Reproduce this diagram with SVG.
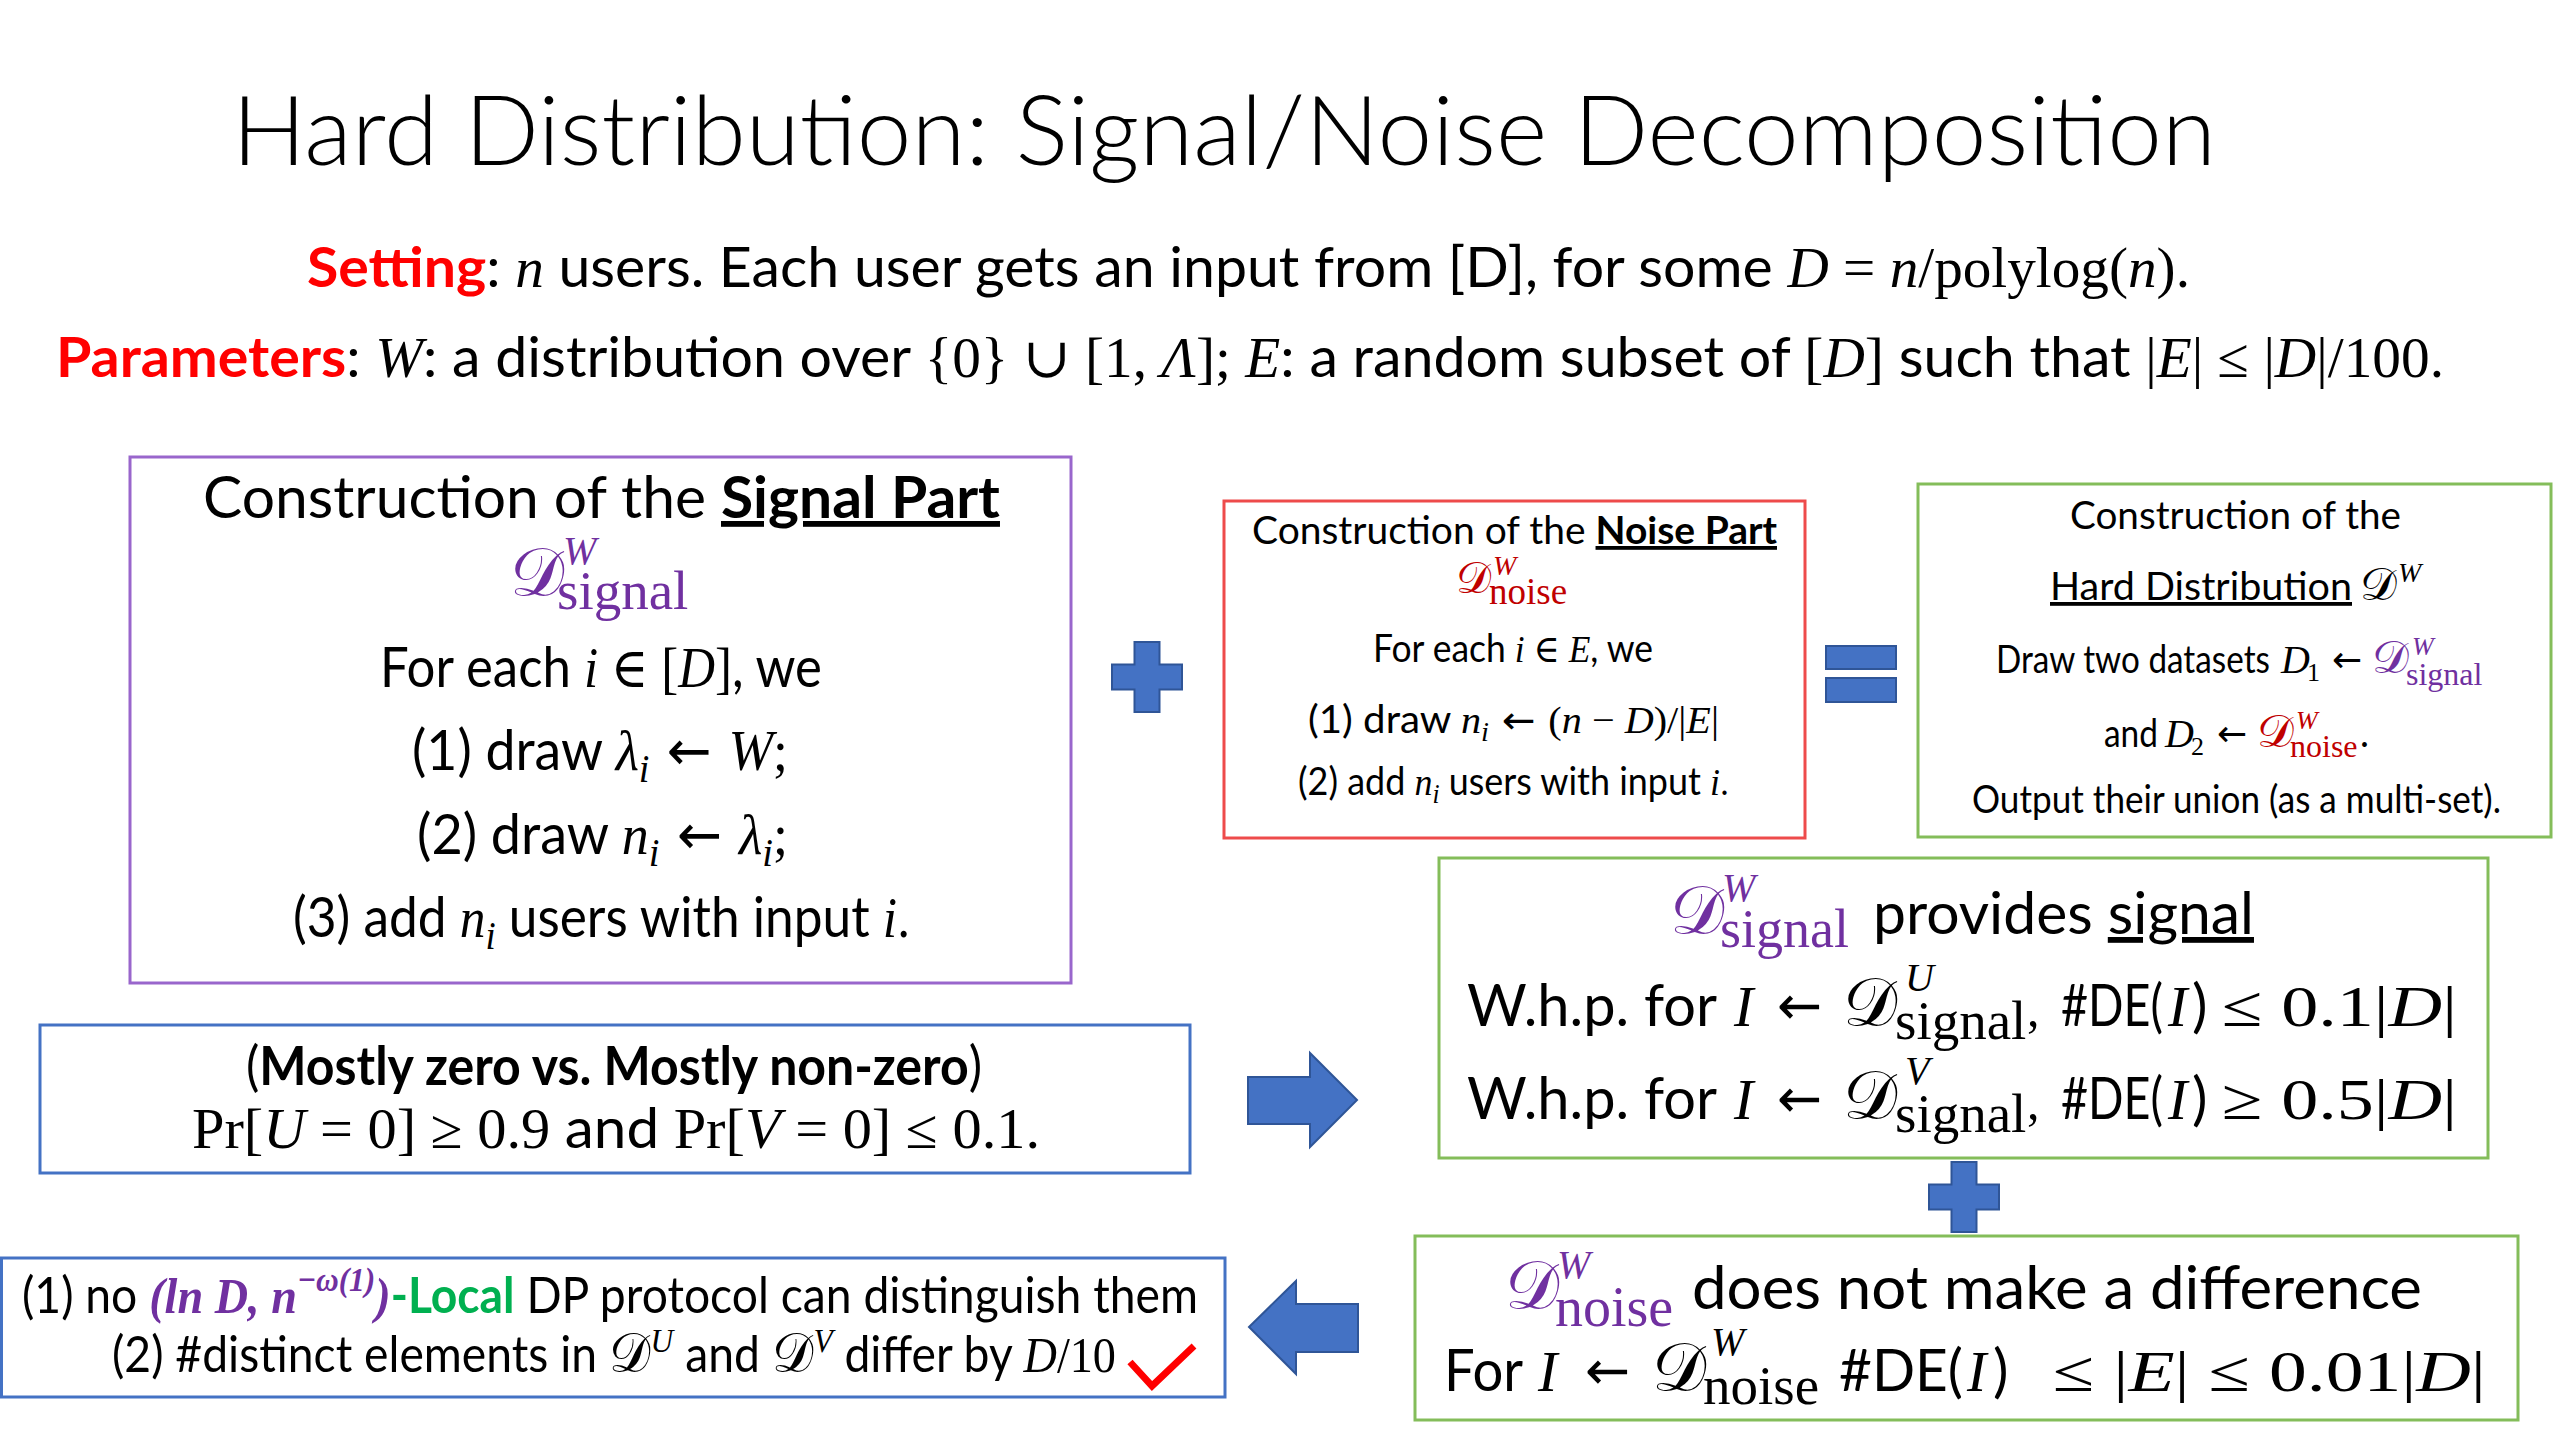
<svg xmlns="http://www.w3.org/2000/svg" width="2560" height="1440" viewBox="0 0 2560 1440">
<defs><style>
text{font-family:"Lato","Open Sans","Liberation Sans",sans-serif;fill:#000}
.m{font-family:"Liberation Serif","DejaVu Serif",serif;font-style:italic}
.r{font-family:"Liberation Serif","DejaVu Serif",serif;font-style:normal}
.ar{font-family:"DejaVu Sans","Liberation Sans",sans-serif;font-style:normal;font-weight:400}
.s{font-family:"Lato","Open Sans","Liberation Sans",sans-serif;font-style:normal}
.cal{font-family:"DejaVu Serif","DejaVu Sans","Noto Sans",serif;font-style:normal}
.pu{fill:#7030A0}
.rd{fill:#C00000}
.b{font-weight:700}
.u{text-decoration:underline}
.box{fill:#fff;stroke-width:3}
.op{fill:#4472C4;stroke:#2F5597;stroke-width:2}
</style></defs>
<rect width="2560" height="1440" fill="#fff"/>

<g id="title">
<text x="232" y="165" font-size="97" font-weight="300" textLength="1984" lengthAdjust="spacingAndGlyphs">Hard Distribution: Signal/Noise Decomposition</text>
<text x="307" y="287" font-size="56" textLength="1883" lengthAdjust="spacingAndGlyphs"><tspan class="b" fill="#FF0000">Setting</tspan>: <tspan class="m">n</tspan> users. Each user gets an input from [D], for some <tspan class="m">D</tspan><tspan class="r"> = </tspan><tspan class="m">n</tspan><tspan class="r">/polylog(</tspan><tspan class="m">n</tspan><tspan class="r">).</tspan></text>
<text x="56" y="377" font-size="56" textLength="2388" lengthAdjust="spacingAndGlyphs"><tspan class="b" fill="#FF0000">Parameters</tspan>: <tspan class="m">W</tspan>: a distribution over <tspan class="r">{0} ∪ [1, </tspan><tspan class="m">Λ</tspan><tspan class="r">]; </tspan><tspan class="m">E</tspan>: a random subset of <tspan class="r">[</tspan><tspan class="m">D</tspan><tspan class="r">]</tspan> such that <tspan class="r">|</tspan><tspan class="m">E</tspan><tspan class="r">| ≤ |</tspan><tspan class="m">D</tspan><tspan class="r">|/100.</tspan></text>
</g>

<g id="signal-part">
<rect class="box" x="130" y="457" width="941" height="526" stroke="#9966CC"/>
<text x="203" y="518" font-size="58" textLength="797" lengthAdjust="spacingAndGlyphs">Construction of the <tspan class="b u">Signal Part</tspan></text>
<text class="pu" x="510" y="596"><tspan class="cal" font-size="68">𝒟</tspan><tspan class="m" x="563" y="564" font-size="40">W</tspan><tspan class="r" x="557" y="609" font-size="55">signal</tspan></text>
<text x="380" y="687" font-size="56" textLength="442" lengthAdjust="spacingAndGlyphs">For each <tspan class="m">i</tspan><tspan class="r"> ∈ [</tspan><tspan class="m">D</tspan><tspan class="r">]</tspan>, we</text>
<text x="412" y="770" font-size="56" textLength="376" lengthAdjust="spacingAndGlyphs">(1) draw <tspan class="m">λ</tspan><tspan class="m" font-size="40" dy="12">i</tspan><tspan class="ar" dy="-12"> ← </tspan><tspan class="m">W</tspan><tspan class="r">;</tspan></text>
<text x="417" y="854" font-size="56" textLength="371" lengthAdjust="spacingAndGlyphs">(2) draw <tspan class="m">n</tspan><tspan class="m" font-size="40" dy="12">i</tspan><tspan class="ar" dy="-12"> ← </tspan><tspan class="m">λ</tspan><tspan class="m" font-size="40" dy="12">i</tspan><tspan class="r" dy="-12">;</tspan></text>
<text x="293" y="937" font-size="56" textLength="617" lengthAdjust="spacingAndGlyphs">(3) add <tspan class="m">n</tspan><tspan class="m" font-size="40" dy="12">i</tspan><tspan dy="-12"> users with input </tspan><tspan class="m">i</tspan><tspan class="r">.</tspan></text>
</g>

<g id="noise-part">
<rect class="box" x="1224" y="501" width="581" height="337" stroke="#EE4B4B"/>
<text x="1252" y="544" font-size="38" textLength="525" lengthAdjust="spacingAndGlyphs">Construction of the <tspan class="b u">Noise Part</tspan></text>
<text class="rd" x="1456" y="593"><tspan class="cal" font-size="44">𝒟</tspan><tspan class="m" x="1493" y="575" font-size="28">W</tspan><tspan class="r" x="1489" y="604" font-size="37">noise</tspan></text>
<text x="1373" y="662" font-size="38" textLength="280" lengthAdjust="spacingAndGlyphs">For each <tspan class="m">i</tspan><tspan class="r"> ∈ </tspan><tspan class="m">E</tspan>, we</text>
<text x="1308" y="733" font-size="38" textLength="411" lengthAdjust="spacingAndGlyphs">(1) draw <tspan class="m">n</tspan><tspan class="m" font-size="27" dy="8">i</tspan><tspan class="ar" dy="-8"> ← </tspan><tspan class="r">(</tspan><tspan class="m">n</tspan><tspan class="r"> − </tspan><tspan class="m">D</tspan><tspan class="r">)/|</tspan><tspan class="m">E</tspan><tspan class="r">|</tspan></text>
<text x="1298" y="795" font-size="38" textLength="431" lengthAdjust="spacingAndGlyphs">(2) add <tspan class="m">n</tspan><tspan class="m" font-size="27" dy="8">i</tspan><tspan dy="-8"> users with input </tspan><tspan class="m">i</tspan><tspan class="r">.</tspan></text>
</g>

<g id="hard-distribution">
<rect class="box" x="1918" y="484" width="633" height="353" stroke="#84BD5A"/>
<text x="2070" y="529" font-size="38" textLength="331" lengthAdjust="spacingAndGlyphs">Construction of the</text>
<text class="u" x="2050" y="600" font-size="38" textLength="302" lengthAdjust="spacingAndGlyphs">Hard Distribution</text>
<text x="2360" y="600"><tspan class="cal" font-size="46">𝒟</tspan><tspan class="m" x="2398" y="582" font-size="28">W</tspan></text>
<text x="1996" y="673" font-size="38" textLength="274" lengthAdjust="spacingAndGlyphs">Draw two datasets</text>
<text x="2281" y="673"><tspan class="m" font-size="40">D</tspan><tspan class="r" x="2307" y="681" font-size="26">1</tspan><tspan class="ar" x="2332" y="672" font-size="36">←</tspan><tspan class="cal pu" x="2372" y="673" font-size="46">𝒟</tspan><tspan class="m pu" x="2412" y="655" font-size="26">W</tspan><tspan class="r pu" x="2406" y="685" font-size="32">signal</tspan></text>
<text x="2104" y="747" font-size="38" textLength="54" lengthAdjust="spacingAndGlyphs">and</text>
<text x="2165" y="747"><tspan class="m" font-size="40">D</tspan><tspan class="r" x="2191" y="755" font-size="26">2</tspan><tspan class="ar" x="2217" y="746" font-size="36">←</tspan><tspan class="cal rd" x="2257" y="747" font-size="46">𝒟</tspan><tspan class="m rd" x="2296" y="729" font-size="26">W</tspan><tspan class="r rd" x="2290" y="757" font-size="32">noise</tspan><tspan x="2360" y="747" font-size="38">.</tspan></text>
<text x="1972" y="813" font-size="38" textLength="529" lengthAdjust="spacingAndGlyphs">Output their union (as a multi-set).</text>
</g>

<g id="signal-provides">
<rect class="box" x="1439" y="858" width="1049" height="300" stroke="#84BD5A"/>
<text class="pu" x="1670" y="934"><tspan class="cal" font-size="68">𝒟</tspan><tspan class="m" x="1722" y="901" font-size="40">W</tspan><tspan class="r" x="1720" y="947" font-size="54">signal</tspan></text>
<text x="1873" y="934" font-size="58" textLength="381" lengthAdjust="spacingAndGlyphs">provides <tspan class="u">signal</tspan></text>
<text x="1467" y="1026" font-size="58" textLength="250" lengthAdjust="spacingAndGlyphs">W.h.p. for</text>
<text x="1734" y="1026"><tspan class="m" font-size="58">I</tspan><tspan class="ar" x="1777" y="1024" font-size="54">←</tspan><tspan class="cal" x="1843" y="1026" font-size="68">𝒟</tspan><tspan class="m" x="1905" y="991" font-size="40">U</tspan><tspan class="r" x="1895" y="1039" font-size="55">signal</tspan><tspan class="r" x="2027" y="1026" font-size="50">,</tspan></text>
<text x="2061" y="1026" font-size="58" textLength="102" lengthAdjust="spacingAndGlyphs">#DE(</text>
<text class="m" x="2168" y="1026" font-size="58">I</text>
<text x="2192" y="1026" font-size="58">)</text>
<text class="r" x="2222" y="1026" font-size="58" textLength="235" lengthAdjust="spacingAndGlyphs">≤ 0.1|<tspan class="m">D</tspan>|</text>
<text x="1467" y="1119" font-size="58" textLength="250" lengthAdjust="spacingAndGlyphs">W.h.p. for</text>
<text x="1734" y="1119"><tspan class="m" font-size="58">I</tspan><tspan class="ar" x="1777" y="1117" font-size="54">←</tspan><tspan class="cal" x="1843" y="1119" font-size="68">𝒟</tspan><tspan class="m" x="1905" y="1084" font-size="40">V</tspan><tspan class="r" x="1895" y="1132" font-size="55">signal</tspan><tspan class="r" x="2027" y="1119" font-size="50">,</tspan></text>
<text x="2061" y="1119" font-size="58" textLength="102" lengthAdjust="spacingAndGlyphs">#DE(</text>
<text class="m" x="2168" y="1119" font-size="58">I</text>
<text x="2192" y="1119" font-size="58">)</text>
<text class="r" x="2222" y="1119" font-size="58" textLength="235" lengthAdjust="spacingAndGlyphs">≥ 0.5|<tspan class="m">D</tspan>|</text>
</g>

<g id="noise-no-difference">
<rect class="box" x="1415" y="1236" width="1103" height="184" stroke="#84BD5A"/>
<text class="pu" x="1505" y="1309"><tspan class="cal" font-size="68">𝒟</tspan><tspan class="m" x="1557" y="1278" font-size="40">W</tspan><tspan class="r" x="1555" y="1326" font-size="56">noise</tspan></text>
<text x="1692" y="1309" font-size="60" textLength="730" lengthAdjust="spacingAndGlyphs">does not make a difference</text>
<text x="1444" y="1391" font-size="58" textLength="79" lengthAdjust="spacingAndGlyphs">For</text>
<text x="1538" y="1391"><tspan class="m" font-size="58">I</tspan><tspan class="ar" x="1585" y="1389" font-size="54">←</tspan><tspan class="cal" x="1652" y="1391" font-size="68">𝒟</tspan><tspan class="m" x="1711" y="1355" font-size="40">W</tspan><tspan class="r" x="1703" y="1404" font-size="55">noise</tspan></text>
<text x="1839" y="1391" font-size="58" textLength="124" lengthAdjust="spacingAndGlyphs">#DE(</text>
<text class="m" x="1967" y="1391" font-size="58">I</text>
<text x="1993" y="1391" font-size="58">)</text>
<text class="r" x="2053" y="1391" font-size="58" textLength="433" lengthAdjust="spacingAndGlyphs">≤ |<tspan class="m">E</tspan>| ≤ 0.01|<tspan class="m">D</tspan>|</text>
</g>

<g id="mostly-zero">
<rect class="box" x="40" y="1025" width="1150" height="148" stroke="#4472C4"/>
<text x="246" y="1085" font-size="54" textLength="736" lengthAdjust="spacingAndGlyphs">(<tspan class="b">Mostly zero vs. Mostly non-zero</tspan>)</text>
<text class="r" x="192" y="1148" font-size="56" textLength="848" lengthAdjust="spacingAndGlyphs">Pr[<tspan class="m">U</tspan> = 0] ≥ 0.9 <tspan class="s">and</tspan> Pr[<tspan class="m">V</tspan> = 0] ≤ 0.1.</text>
</g>

<g id="conclusion">
<rect class="box" x="1.5" y="1258" width="1223.5" height="139" stroke="#4472C4"/>
<text x="22" y="1313" font-size="50" textLength="1176" lengthAdjust="spacingAndGlyphs">(1) no <tspan class="m b pu">(ln D, n</tspan><tspan class="m b pu" font-size="34" dy="-22">−ω(1)</tspan><tspan class="m b pu" dy="22">)</tspan><tspan class="b" fill="#00B050">-Local</tspan> DP protocol can distinguish them</text>
<text x="112" y="1372" font-size="50" textLength="1004" lengthAdjust="spacingAndGlyphs">(2) #distinct elements in <tspan class="cal" font-size="56">𝒟</tspan><tspan class="m" font-size="34" dy="-20">U</tspan><tspan dy="20"> and </tspan><tspan class="cal" font-size="56">𝒟</tspan><tspan class="m" font-size="34" dy="-20">V</tspan><tspan dy="20"> differ by </tspan><tspan class="m">D</tspan><tspan class="r">/10</tspan></text>
<path d="M1130,1362 L1152,1386 L1194,1346" fill="none" stroke="#FF0000" stroke-width="7" stroke-linejoin="miter"/>
</g>

<g id="operators">
<polygon class="op" points="1134.5,642 1159.5,642 1159.5,664.5 1182,664.5 1182,689.5 1159.5,689.5 1159.5,712 1134.5,712 1134.5,689.5 1112,689.5 1112,664.5 1134.5,664.5"/>
<rect class="op" x="1826" y="646" width="70" height="23"/>
<rect class="op" x="1826" y="678" width="70" height="24"/>
<polygon class="op" points="1951.5,1162 1976.5,1162 1976.5,1184.5 1999,1184.5 1999,1209.5 1976.5,1209.5 1976.5,1232 1951.5,1232 1951.5,1209.5 1929,1209.5 1929,1184.5 1951.5,1184.5"/>
</g>

<g id="connectors">
<polygon class="op" points="1248,1077 1310,1077 1310,1053 1357,1100 1310,1147 1310,1124 1248,1124"/>
<polygon class="op" points="1249,1327 1296,1281 1296,1304 1358,1304 1358,1352 1296,1352 1296,1374"/>
</g>
</svg>
